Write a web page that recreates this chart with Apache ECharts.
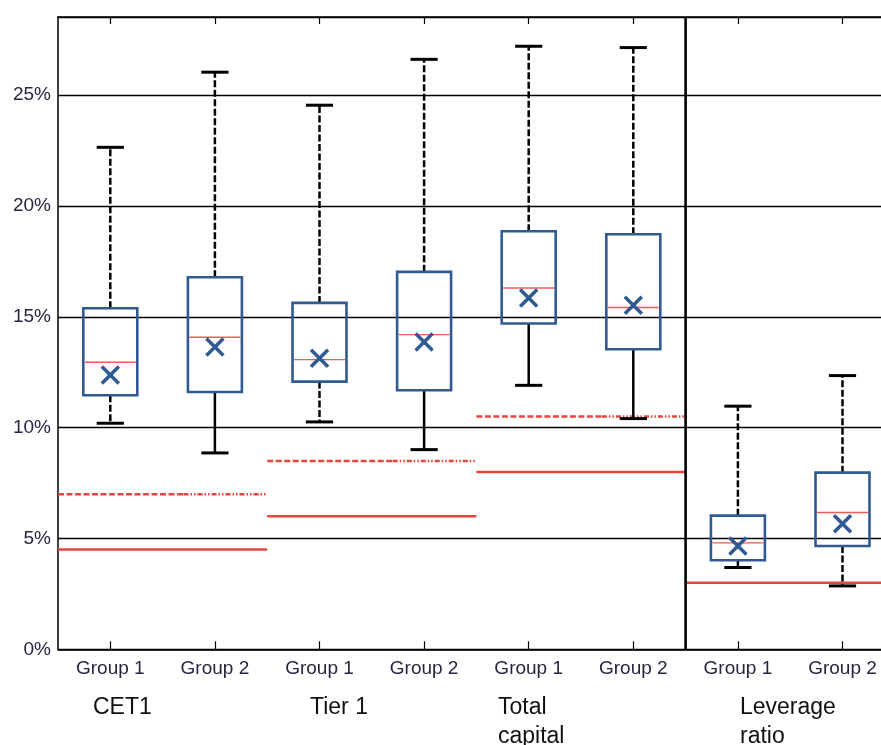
<!DOCTYPE html>
<html>
<head>
<meta charset="utf-8">
<script src="https://cdn.jsdelivr.net/npm/echarts@6/dist/echarts.min.js"></script>
<style>html,body{margin:0;padding:0;background:#fff;}#chart{width:881px;height:745px;}</style>
</head>
<body>
<div id="chart"></div>
<script>
// ---- data (values in %) ----
const categories = ['Group 1','Group 2','Group 1','Group 2','Group 1','Group 2','Group 1','Group 2'];
const groupTitles = ['CET1','Tier 1','Total\ncapital','Leverage\nratio'];
const yTicks = [0, 5, 10, 15, 20, 25];
const whiskerLow  = [10.2, 8.86, 10.26, 9.01, 11.91, 10.41, 3.69, 2.86];
const q1          = [11.46, 11.61, 12.08, 11.69, 14.70, 13.54, 4.02, 4.66];
const median      = [12.95, 14.08, 13.07, 14.20, 16.30, 15.42, 4.80, 6.17];
const q3          = [15.39, 16.79, 15.63, 17.03, 18.86, 18.73, 6.03, 7.97];
const whiskerHigh = [22.65, 26.04, 24.55, 26.62, 27.21, 27.15, 10.97, 12.35];
const mean        = [12.38, 13.64, 13.13, 13.87, 15.85, 15.52, 4.66, 5.67];
// regulatory requirement lines: [first category, last category, value]
const minimumReq  = [[0, 1, 4.5], [2, 3, 6.0], [4, 5, 8.0], [6, 7, 3.0]];
const bufferReq   = [[0, 1, 7.0], [2, 3, 8.5], [4, 5, 10.5]];

// ---- styles ----
const upperDashed = [true, true, true, true, true, true, true, true];
const lowerDashed = [true, false, true, false, false, false, false, true];
const BLUE = '#2f5a92', RED = '#e8463c', FONT = 'Liberation Sans, Arial, sans-serif';

const chart = echarts.init(document.getElementById('chart'));

function boxRender(params, api) {
  const i = api.value(0);
  const bw = api.size([1, 0])[0];
  const x = api.coord([i, 0])[0];
  const y = k => api.coord([i, api.value(k)])[1];
  const half = bw * 0.258, cap = bw * 0.13;
  const dash = [7, 2.5];
  const yl = y(1), yq1 = y(2), ym = y(3), yq3 = y(4), yh = y(5);
  return {
    type: 'group',
    children: [
      {type: 'line', shape: {x1: x, y1: yq3, x2: x, y2: yh},
       style: {stroke: '#000', lineWidth: 2.5, lineDash: upperDashed[i] ? dash : null}},
      {type: 'line', shape: {x1: x, y1: yq1, x2: x, y2: yl},
       style: {stroke: '#000', lineWidth: 2.5, lineDash: lowerDashed[i] ? dash : null}},
      {type: 'line', shape: {x1: x - cap, y1: yh, x2: x + cap, y2: yh}, style: {stroke: '#000', lineWidth: 3}},
      {type: 'line', shape: {x1: x - cap, y1: yl, x2: x + cap, y2: yl}, style: {stroke: '#000', lineWidth: 3}},
      {type: 'rect', shape: {x: x - half, y: yq3, width: half * 2, height: yq1 - yq3},
       style: {fill: 'none', stroke: BLUE, lineWidth: 2.6}},
      {type: 'line', shape: {x1: x - half + 1.5, y1: ym, x2: x + half - 1.5, y2: ym},
       style: {stroke: '#f05a55', lineWidth: 1.4}}
    ]
  };
}

function meanRender(params, api) {
  const p = api.coord([api.value(0), api.value(1)]);
  const s = 8.5;
  return {
    type: 'group',
    children: [
      {type: 'line', shape: {x1: p[0] - s, y1: p[1] - s, x2: p[0] + s, y2: p[1] + s}, style: {stroke: BLUE, lineWidth: 3.5}},
      {type: 'line', shape: {x1: p[0] - s, y1: p[1] + s, x2: p[0] + s, y2: p[1] - s}, style: {stroke: BLUE, lineWidth: 3.5}}
    ]
  };
}

function reqRender(dashed) {
  return function (params, api) {
    const bw = api.size([1, 0])[0];
    const a = api.coord([api.value(0), api.value(2)]);
    const b = api.coord([api.value(1), api.value(2)]);
    const x1 = a[0] - bw / 2, x2 = b[0] + bw / 2, yy = a[1];
    if (!dashed) {
      return {type: 'line', shape: {x1: x1, y1: yy, x2: x2, y2: yy}, style: {stroke: RED, lineWidth: 2.5}};
    }
    const xm = x1 + (x2 - x1) * 0.6;
    return {
      type: 'group',
      children: [
        {type: 'line', shape: {x1: x1, y1: yy, x2: xm, y2: yy}, style: {stroke: RED, lineWidth: 2.5, lineDash: [6, 2.5]}},
        {type: 'line', shape: {x1: xm, y1: yy, x2: x2, y2: yy}, style: {stroke: RED, lineWidth: 2.5, lineDash: [5, 2, 1.5, 2, 1.5, 2]}}
      ]
    };
  };
}

function sepRender(params, api) {
  const bw = api.size([1, 0])[0];
  const a = api.coord([api.value(0), 0]);
  const top = api.coord([api.value(0), 28.53]);
  const x = a[0] + bw / 2;
  return {type: 'line', shape: {x1: x, y1: a[1], x2: x, y2: top[1]}, style: {stroke: '#000', lineWidth: 2.6}};
}

const titleX = [93, 310, 498, 740];

chart.setOption({
  animation: false,
  backgroundColor: '#fff',
  grid: {left: 58, top: 17, width: 836.8, bottom: 95.7, containLabel: false, outerBoundsMode: 'none'},
  xAxis: [
    {type: 'category', data: categories, position: 'bottom',
     axisLine: {show: true, lineStyle: {color: '#000', width: 1.5}},
     axisTick: {show: true, inside: true, alignWithLabel: true, length: 8, lineStyle: {color: '#000', width: 1.2}},
     axisLabel: {color: '#262640', fontSize: 19, fontFamily: FONT, margin: 10, interval: 0},
     splitLine: {show: false}},
    {type: 'category', data: categories, position: 'top',
     axisLine: {show: true, lineStyle: {color: '#000', width: 1.5}},
     axisTick: {show: true, inside: true, alignWithLabel: true, length: 7, lineStyle: {color: '#000', width: 1.2}},
     axisLabel: {show: false}}
  ],
  yAxis: {
    type: 'value', min: 0, max: 28.53, interval: 5,
    axisLine: {show: true, lineStyle: {color: '#000', width: 1.5}},
    axisTick: {show: false},
    axisLabel: {color: '#262640', fontSize: 19, fontFamily: FONT, margin: 7,
      formatter: v => (yTicks.indexOf(Math.round(v * 100) / 100) >= 0 ? v + '%' : '')},
    splitLine: {show: true, lineStyle: {color: '#000', width: 1.3}}
  },
  series: [
    {type: 'custom', name: 'minimum', renderItem: reqRender(false), data: minimumReq, z: 3, silent: true},
    {type: 'custom', name: 'buffer', renderItem: reqRender(true), data: bufferReq, z: 3, silent: true},
    {type: 'custom', name: 'separator', renderItem: sepRender, data: [[5]], z: 4, silent: true},
    {type: 'custom', name: 'box', renderItem: boxRender, z: 5, silent: true,
     encode: {x: 0, y: [1, 2, 3, 4, 5]},
     data: categories.map((c, i) => [i, whiskerLow[i], q1[i], median[i], q3[i], whiskerHigh[i]])},
    {type: 'custom', name: 'mean', renderItem: meanRender, z: 6, silent: true,
     encode: {x: 0, y: 1},
     data: categories.map((c, i) => [i, mean[i]])}
  ],
  graphic: groupTitles.map((t, k) => ({
    type: 'text', left: titleX[k], top: 693,
    style: {text: t, fill: '#111', font: '23px ' + FONT, lineHeight: 29}
  }))
});
</script>
</body>
</html>
